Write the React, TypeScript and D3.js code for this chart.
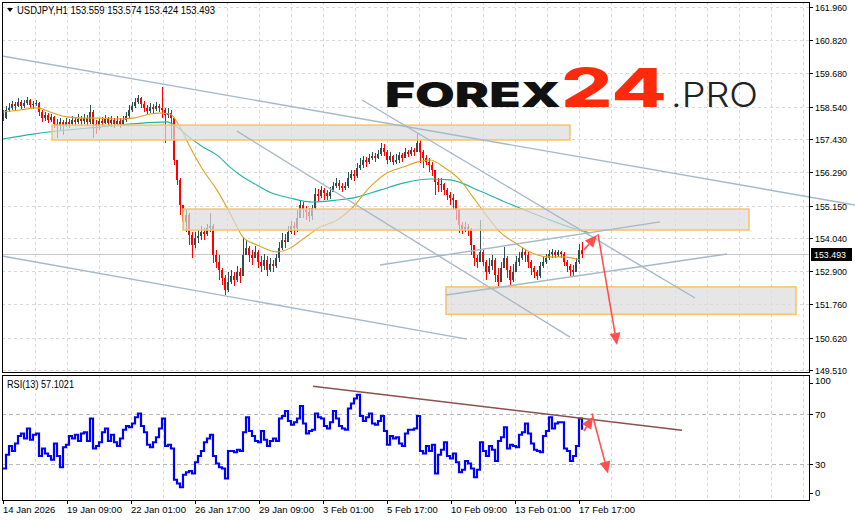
import React from "react";
import * as d3 from "d3";

// ---------- DATA ----------
const symbolHeader = "USDJPY,H1  153.559 153.574 153.424 153.493";
const rsiHeader = "RSI(13) 57.1021";
const lastPrice = 153.493;
const firstOpen = 158.22;
const barStep = 3; // hours represented by each drawn candle

const closes = [
  158.15,158.43,158.50,158.63,158.56,158.70,158.56,158.67,158.77,158.60,
  158.63,158.67,158.36,158.15,158.26,158.08,158.19,157.95,157.88,158.02,
  157.91,158.02,157.95,158.08,158.02,158.12,158.05,158.15,158.02,158.36,
  157.95,157.88,158.05,157.98,158.12,157.98,158.08,157.95,158.05,157.95,
  158.08,158.22,158.43,158.56,158.70,158.84,158.63,158.50,158.39,158.53,
  158.46,158.56,158.50,158.43,158.26,158.32,158.15,156.71,156.03,155.17,
  154.59,154.83,154.14,153.80,154.04,154.11,154.24,154.17,154.38,154.45,
  153.45,153.21,152.94,152.66,152.25,152.53,152.73,152.60,152.87,152.73,
  153.45,153.69,153.45,153.35,153.56,153.21,153.08,153.28,152.94,153.15,
  153.08,153.35,153.69,153.97,153.90,154.24,154.45,154.38,154.72,155.17,
  155.00,154.93,154.79,155.07,155.55,155.48,155.68,155.58,155.48,155.61,
  155.82,155.92,155.82,155.75,155.82,156.09,156.23,156.16,156.44,156.54,
  156.71,156.64,156.78,156.85,156.78,156.92,157.12,156.99,156.71,156.85,
  156.64,156.71,156.88,156.78,156.99,156.92,157.06,156.99,157.30,156.99,
  156.78,156.64,156.54,156.37,155.96,155.85,155.89,155.68,155.51,155.41,
  155.34,155.00,154.48,154.31,154.41,154.35,153.80,153.35,153.21,153.56,
  153.21,152.87,153.08,153.28,152.77,152.53,153.01,153.35,152.94,152.60,
  152.87,153.21,153.35,153.56,153.45,153.21,153.01,152.87,152.73,153.08,
  153.21,153.35,153.49,153.56,153.45,153.56,153.49,153.21,153.08,152.94,
  152.87,153.21,153.63,153.49,
];
const highs = [
  158.43,158.56,158.67,158.74,158.70,158.84,158.77,158.77,158.87,158.80,
  158.74,158.77,158.70,158.43,158.36,158.32,158.29,158.22,158.12,158.15,
  158.08,158.15,158.12,158.22,158.19,158.29,158.22,158.29,158.26,158.60,
  158.43,158.08,158.15,158.19,158.26,158.19,158.22,158.15,158.22,158.15,
  158.22,158.36,158.60,158.70,158.84,158.94,158.87,158.74,158.60,158.67,
  158.63,158.70,158.63,159.22,158.50,158.50,158.43,158.15,156.71,156.09,
  155.17,155.00,154.89,154.24,154.24,154.31,154.45,154.38,154.52,154.89,
  154.52,153.63,153.45,153.01,152.77,152.87,152.94,152.87,153.08,153.01,
  154.04,153.97,153.76,153.63,153.76,153.63,153.42,153.49,153.42,153.35,
  153.28,153.49,153.90,154.21,154.17,154.45,154.62,154.59,155.00,155.34,
  155.27,155.13,155.07,155.17,155.75,155.72,155.82,155.75,155.68,155.79,
  155.96,156.09,156.03,155.92,155.96,156.30,156.37,156.37,156.61,156.78,
  156.85,156.81,156.92,156.99,156.95,157.06,157.30,157.26,157.06,156.99,
  156.88,156.92,156.99,156.95,157.12,157.06,157.16,157.12,157.64,157.40,
  157.06,156.88,156.78,156.64,156.37,156.09,156.09,155.92,155.75,155.61,
  155.55,155.34,155.00,154.59,154.59,154.52,154.38,153.80,153.45,154.65,
  153.63,153.28,153.35,153.45,153.35,153.01,153.21,153.73,153.42,153.08,
  153.15,153.42,153.56,153.69,153.66,153.56,153.28,153.08,152.94,153.21,
  153.39,153.49,153.63,153.66,153.63,153.63,153.59,153.56,153.28,153.15,
  153.11,153.35,153.83,153.90,
];
const lows = [
  158.05,158.12,158.36,158.43,158.43,158.53,158.46,158.50,158.60,158.50,
  158.46,158.56,158.22,158.02,158.05,157.98,158.02,157.81,157.47,157.74,
  157.57,157.84,157.81,157.91,157.88,157.95,157.91,157.95,157.88,157.95,
  157.47,157.60,157.74,157.84,157.95,157.88,157.84,157.81,157.88,157.81,
  157.91,158.02,158.15,158.36,158.50,158.63,158.50,158.36,158.29,158.32,
  158.32,158.39,158.36,158.15,157.30,158.15,157.40,156.54,155.85,154.83,
  154.31,154.24,153.80,153.35,153.69,153.87,153.97,153.97,154.11,154.24,
  153.18,153.01,152.60,152.42,152.08,152.18,152.46,152.39,152.53,152.49,
  153.21,153.45,153.21,153.11,153.35,153.01,152.87,152.94,152.73,152.87,
  152.87,153.01,153.21,153.63,153.69,153.97,154.17,154.14,154.24,154.83,
  154.72,154.65,154.59,154.65,155.00,155.31,155.41,155.34,155.34,155.37,
  155.61,155.75,155.68,155.61,155.68,155.75,156.03,155.99,156.09,156.37,
  156.44,156.47,156.57,156.71,156.64,156.75,156.85,156.85,156.57,156.64,
  156.54,156.57,156.61,156.64,156.81,156.81,156.85,156.85,156.99,156.61,
  156.44,156.54,156.30,156.16,155.51,155.61,155.61,155.51,155.34,155.17,
  155.00,154.65,154.21,154.17,154.24,154.11,153.45,153.08,153.01,153.21,
  153.08,152.60,152.80,152.94,152.53,152.32,152.73,153.01,152.66,152.36,
  152.53,152.94,153.08,153.28,153.21,153.01,152.77,152.66,152.60,152.66,
  153.01,153.15,153.28,153.35,153.35,153.39,153.35,153.08,152.87,152.73,
  152.70,152.94,153.15,153.35,
];
const rsiValues = [
  26,37,44,40,46,52,54,50,58,49,
  53,54,36,42,38,36,33,46,36,27,
  43,45,52,50,53,48,54,55,48,66,
  42,44,47,55,58,48,53,47,44,50,
  57,60,59,62,67,70,60,55,45,43,
  47,51,58,66,44,45,42,17,14,11,
  21,23,24,22,31,36,40,47,50,53,
  36,30,27,26,18,40,40,39,41,40,
  55,67,56,52,48,47,56,49,44,48,
  50,48,66,68,72,64,61,63,66,76,
  62,54,56,57,70,67,66,60,58,63,
  72,66,60,58,57,74,78,82,85,68,
  64,67,70,62,61,64,68,56,45,52,
  50,51,46,44,54,57,57,58,68,40,
  38,44,40,45,22,37,41,47,36,34,
  38,31,23,25,32,30,26,19,25,47,
  40,36,44,41,32,48,51,59,42,45,
  44,43,53,55,62,54,46,41,40,39,
  52,56,67,58,62,63,63,42,40,32,
  36,44,66,57,
];

// moving averages: [bar offset, price]
const maFast: [number, number][] = [
  [0,158.36],[17,158.43],[34,158.50],[47,158.36],[64,158.19],[82,158.15],[97,158.15],
  [112,158.12],[130,158.15],[147,158.29],[157,158.32],[167,158.29],[177,157.84],
  [187,157.16],[200,156.37],[214,155.68],[227,154.89],[240,154.07],[254,153.80],
  [274,153.56],[287,153.69],[300,154.00],[317,154.41],[334,154.65],[350,155.10],
  [367,155.79],[384,156.27],[400,156.47],[414,156.64],[427,156.71],[442,156.44],
  [457,156.03],[470,155.44],[484,154.79],[497,154.24],[512,153.87],[527,153.56],
  [544,153.39],[560,153.39],[577,153.28],
];
const maSlow: [number, number][] = [
  [0,157.43],[30,157.60],[64,157.74],[97,157.84],[130,157.95],[164,158.02],[174,157.84],
  [187,157.47],[200,157.16],[214,156.88],[227,156.47],[240,156.13],[254,155.85],
  [267,155.61],[287,155.41],[310,155.27],[334,155.34],[354,155.44],[377,155.68],
  [400,155.92],[427,156.06],[447,156.03],[477,155.65],[507,155.20],[542,154.72],
  [572,154.35],[587,154.21],
];

// support / resistance zones: [fromBar, toBar, lowPrice, highPrice]
const zones: [number, number, number, number][] = [
  [49, 567, 157.40, 157.91],
  [180, 746, 154.31, 155.03],
  [443, 793, 151.42, 152.36],
];

// trend lines: [bar1, price1, bar2, price2]
const trendLines: [number, number, number, number][] = [
  [-1, 160.28, 852, 155.17],
  [-1, 153.42, 464, 150.57],
  [234, 157.70, 567, 150.64],
  [359, 158.77, 692, 151.98],
  [377, 153.11, 657, 154.59],
  [443, 152.08, 724, 153.49],
];
const rsiTrend: [number, number, number, number] = [310, 91.8, 679, 56.6];

// forecast arrows [bar1, value1, bar2, value2]
const priceArrows: [number, number, number, number][] = [
  [581, 153.63, 594, 154.14],
  [595, 154.17, 614, 150.37],
];
const rsiArrows: [number, number, number, number][] = [
  [581, 56, 590, 67.5],
  [589, 70, 605, 22],
];

const priceTicks = ["161.960","160.820","159.680","158.540","157.430","156.290","155.150","154.040","152.900","151.760","150.620","149.510"];
const rsiTicks = [100, 70, 30, 0];
const timeLabels = ["14 Jan 2026","19 Jan 09:00","22 Jan 01:00","26 Jan 17:00","29 Jan 09:00","3 Feb 01:00","5 Feb 17:00","10 Feb 09:00","13 Feb 01:00","17 Feb 17:00"];
const timeLabelBars = [0, 64, 128, 192, 256, 320, 384, 448, 512, 576];

// ---------- LAYOUT ----------
const W = 855, H = 521;
const L = 2, R = 809;
const mainTop = 2, mainBot = 372;
const rsiTop = 375, rsiBot = 500;
const FONT = "'Liberation Sans', Arial, sans-serif";

const x = d3.scaleLinear().domain([0, 806]).range([3, 809]);
const y = d3.scaleLinear().domain([149.51, 161.96]).range([370, 7]);
const ry = d3.scaleLinear().domain([0, 100]).range([501, 376]);

function Arrow({ x1, y1, x2, y2, color }: any) {
  const a = Math.atan2(y2 - y1, x2 - x1);
  const len = 12, hw = 5.5;
  const bx = x2 - len * Math.cos(a), by = y2 - len * Math.sin(a);
  const p1 = [bx + hw * Math.sin(a), by - hw * Math.cos(a)];
  const p2 = [bx - hw * Math.sin(a), by + hw * Math.cos(a)];
  return (
    <g>
      <line x1={x1} y1={y1} x2={bx} y2={by} stroke={color} strokeWidth={1.6} />
      <polygon points={`${x2},${y2} ${p1[0]},${p1[1]} ${p2[0]},${p2[1]}`} fill={color} />
    </g>
  );
}

export default function App() {
  const candles = closes.map((c, i) => {
    const o = i === 0 ? firstOpen : closes[i - 1];
    const h = Math.max(highs[i], o, c);
    const l = Math.min(lows[i], o, c);
    return { bar: i * barStep, o, c, h, l };
  });

  const maLine = d3.line<[number, number]>().x(d => x(d[0])).y(d => y(d[1])).curve(d3.curveMonotoneX);
  const rsiLine = d3.line<number>().x((_, i) => x(i * barStep)).y(d => ry(d)).curve(d3.curveStepAfter);

  const vGrid = d3.range(32, 807, 32);
  const gridColor = "#d9d9d9";

  return (
    <svg width={W} height={H} style={{ position: "absolute", left: 0, top: 0, background: "#fff" }} fontFamily={FONT}>
      <rect x={0} y={0} width={W} height={H} fill="#fff" />
      <defs>
        <clipPath id="mainClip"><rect x={L} y={mainTop} width={R - L} height={mainBot - mainTop} /></clipPath>
        <clipPath id="rsiClip"><rect x={L} y={rsiTop} width={R - L} height={rsiBot - rsiTop} /></clipPath>
      </defs>

      {/* grids */}
      <g stroke={gridColor} strokeDasharray="3,3" shapeRendering="crispEdges">
        {priceTicks.map(t => (
          <line key={t} x1={L} x2={R} y1={Math.round(y(+t)) + 0.5} y2={Math.round(y(+t)) + 0.5} />
        ))}
        {vGrid.map(b => (
          <g key={b}>
            <line x1={Math.round(x(b)) + 0.5} x2={Math.round(x(b)) + 0.5} y1={mainTop} y2={mainBot} />
            <line x1={Math.round(x(b)) + 0.5} x2={Math.round(x(b)) + 0.5} y1={rsiTop} y2={rsiBot} />
          </g>
        ))}
      </g>
      <g stroke="#b8b8b8" strokeDasharray="4,3" shapeRendering="crispEdges">
        {[70, 30].map(v => (
          <line key={v} x1={L} x2={R} y1={Math.round(ry(v)) + 0.5} y2={Math.round(ry(v)) + 0.5} />
        ))}
      </g>

      {/* logo */}
      <g>
        <text x={385} y={107} fontFamily="Inter, 'Open Sans', sans-serif" fontWeight={900} fontSize={34} fill="#111" textLength={176} lengthAdjust="spacingAndGlyphs">FOREX</text>
        <text x={561} y={107} fontFamily="Inter, 'Open Sans', sans-serif" fontWeight={800} fontSize={54} fill="#ff2a0c" textLength={106} lengthAdjust="spacingAndGlyphs">24</text>
        <text x={671} y={107} fontFamily="Inter, 'Open Sans', sans-serif" fontWeight={300} fontSize={34} fill="#222" textLength={87} lengthAdjust="spacingAndGlyphs">.PRO</text>
      </g>

      {/* current price line */}
      <line x1={L} x2={R} y1={Math.round(y(lastPrice)) + 0.5} y2={Math.round(y(lastPrice)) + 0.5} stroke="#c8c8c8" strokeWidth={1} />

      {/* candles */}
      <g clipPath="url(#mainClip)" shapeRendering="crispEdges">
        {candles.map((d, i) => {
          const cx = Math.round(x(d.bar));
          const col = d.c >= d.o ? "#2f4f4f" : "#ff0000";
          const top = Math.round(y(Math.max(d.o, d.c)));
          const bot = Math.round(y(Math.min(d.o, d.c)));
          return (
            <g key={i}>
              <rect x={cx} y={Math.round(y(d.h))} width={1} height={Math.max(1, Math.round(y(d.l)) - Math.round(y(d.h)))} fill={col} />
              <rect x={cx - 1} y={top} width={2} height={Math.max(1, bot - top)} fill={col} />
            </g>
          );
        })}
      </g>

      {/* moving averages */}
      <g clipPath="url(#mainClip)" fill="none">
        <path d={maLine(maSlow) || ""} stroke="#20b2aa" strokeWidth={1.1} />
        <path d={maLine(maFast) || ""} stroke="#daa520" strokeWidth={1.1} />
      </g>

      {/* zones */}
      <g>
        {zones.map((z, i) => (
          <rect key={i} x={x(z[0])} y={y(z[3])} width={x(z[1]) - x(z[0])} height={y(z[2]) - y(z[3])}
            fill="#dcdcdc" fillOpacity={0.7} stroke="#f5c46a" strokeWidth={1.5} />
        ))}
      </g>

      {/* trend lines */}
      <g stroke="#a6b9c8" strokeWidth={1.4}>
        {trendLines.map((t, i) => (
          <line key={i} x1={x(t[0])} y1={y(t[1])} x2={x(t[2])} y2={y(t[3])} />
        ))}
      </g>

      {/* arrows */}
      {priceArrows.map((a, i) => (
        <Arrow key={i} x1={x(a[0])} y1={y(a[1])} x2={x(a[2])} y2={y(a[3])} color="#ff5050" />
      ))}

      {/* RSI */}
      <g clipPath="url(#rsiClip)">
        <path d={rsiLine(rsiValues) || ""} fill="none" stroke="#0000ff" strokeWidth={2.2} />
      </g>
      <line x1={x(rsiTrend[0])} y1={ry(rsiTrend[1])} x2={x(rsiTrend[2])} y2={ry(rsiTrend[3])} stroke="#8b5050" strokeWidth={1.4} />
      {rsiArrows.map((a, i) => (
        <Arrow key={i} x1={x(a[0])} y1={ry(a[1])} x2={x(a[2])} y2={ry(a[3])} color="#ff5050" />
      ))}

      {/* frames */}
      <g fill="none" stroke="#000" strokeWidth={1} shapeRendering="crispEdges">
        <rect x={L + 0.5} y={mainTop + 0.5} width={R - L} height={mainBot - mainTop} />
        <rect x={L + 0.5} y={rsiTop + 0.5} width={R - L} height={rsiBot - rsiTop} />
      </g>

      {/* price axis */}
      <g fontSize={9.5} fill="#000">
        {priceTicks.map(t => {
          const yy = Math.round(y(+t));
          return (
            <g key={t}>
              <line x1={R} x2={R + 4} y1={yy + 0.5} y2={yy + 0.5} stroke="#000" shapeRendering="crispEdges" />
              <text x={815} y={yy + 3.5} textLength={32} lengthAdjust="spacingAndGlyphs">{t}</text>
            </g>
          );
        })}
        {(() => {
          const yy = Math.round(y(lastPrice));
          return (
            <g>
              <rect x={811} y={yy - 6} width={41} height={13} fill="#000" />
              <text x={814} y={yy + 3.5} fill="#fff" textLength={32} lengthAdjust="spacingAndGlyphs">{lastPrice.toFixed(3)}</text>
            </g>
          );
        })()}
        {rsiTicks.map(v => {
          const yy = Math.round(ry(v));
          const ty = v === 100 ? yy + 8 : v === 0 ? yy - 5 : yy + 3.5;
          const ly = v === 100 ? yy + 7.5 : v === 0 ? yy - 7.5 : yy + 0.5;
          return (
            <g key={v}>
              <line x1={R} x2={R + 4} y1={ly} y2={ly} stroke="#000" shapeRendering="crispEdges" />
              <text x={815} y={ty}>{v}</text>
            </g>
          );
        })}
      </g>

      {/* time axis */}
      <g fontSize={9.5} fill="#000">
        {timeLabels.map((t, i) => {
          const xx = Math.round(x(timeLabelBars[i]));
          return (
            <g key={t}>
              <line x1={xx + 0.5} x2={xx + 0.5} y1={rsiBot} y2={rsiBot + 4} stroke="#000" shapeRendering="crispEdges" />
              <text x={xx} y={513}>{t}</text>
            </g>
          );
        })}
      </g>

      {/* headers */}
      <polygon points="7,8 13,8 10,12" fill="#000" />
      <text x={17} y={14} fontSize={10} fill="#000" textLength={198} lengthAdjust="spacingAndGlyphs">{symbolHeader}</text>
      <text x={7} y={388} fontSize={10} fill="#000" textLength={67} lengthAdjust="spacingAndGlyphs">{rsiHeader}</text>
    </svg>
  );
}
